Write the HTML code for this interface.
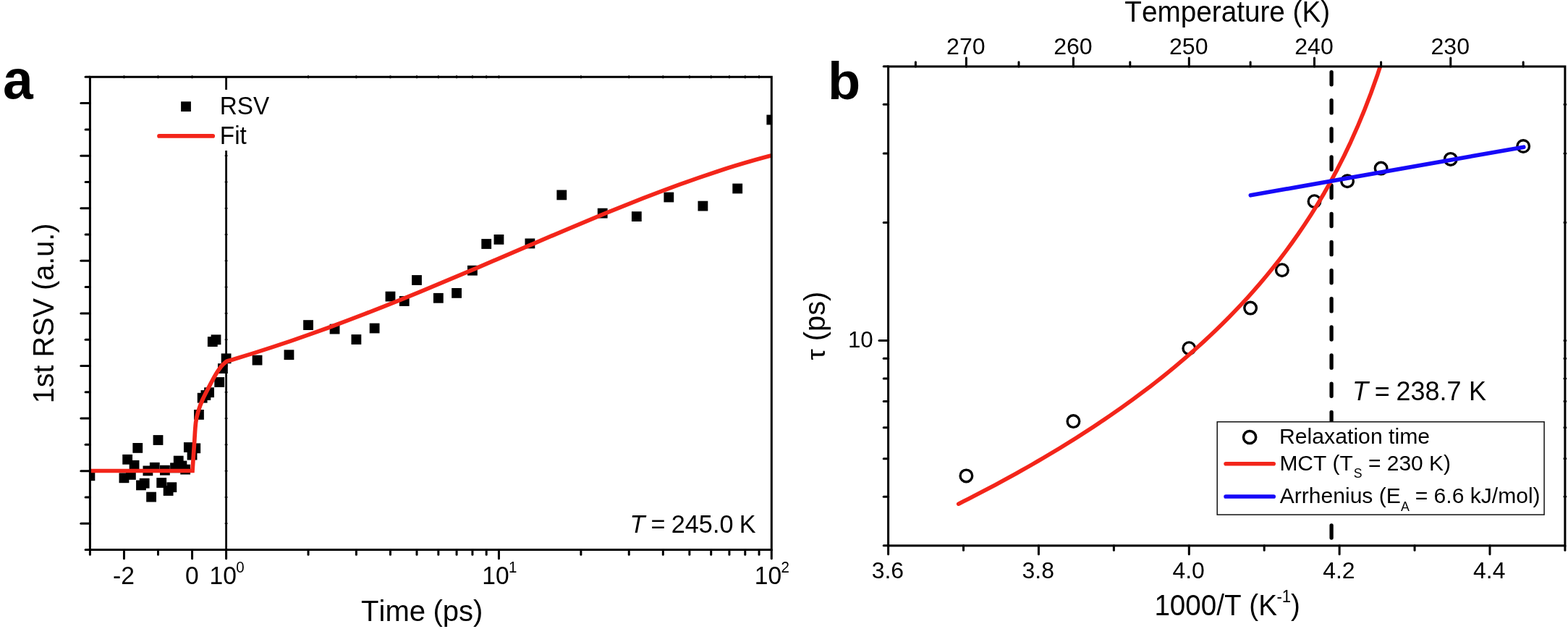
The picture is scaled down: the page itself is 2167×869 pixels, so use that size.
<!DOCTYPE html>
<html lang="en">
<head>
<meta charset="utf-8">
<title>Figure: RSV fit and relaxation time</title>
<style>
html,body{margin:0;padding:0;background:#fff;}
body{width:2167px;height:869px;overflow:hidden;}
svg{display:block;}
svg text{font-family:"Liberation Sans", sans-serif;fill:#000;font-kerning:none;}
</style>
</head>
<body>
<svg width="2167" height="869" viewBox="0 0 2167 869">
<rect x="0" y="0" width="2167" height="869" fill="#fff"/>
<g id="panelA">
<clipPath id="clipA"><rect x="124.4" y="106.3" width="941.9" height="653.2"/></clipPath>
<g clip-path="url(#clipA)" fill="#000">
<rect x="117.5" y="650.4" width="13.8" height="13.8"/>
<rect x="164.55" y="653.4" width="13.8" height="13.8"/>
<rect x="169.25" y="627.9" width="13.8" height="13.8"/>
<rect x="173.96" y="649" width="13.8" height="13.8"/>
<rect x="178.66" y="635.9" width="13.8" height="13.8"/>
<rect x="183.37" y="612" width="13.8" height="13.8"/>
<rect x="188.08" y="663.5" width="13.8" height="13.8"/>
<rect x="192.78" y="660.8" width="13.8" height="13.8"/>
<rect x="197.49" y="643.5" width="13.8" height="13.8"/>
<rect x="202.19" y="679.7" width="13.8" height="13.8"/>
<rect x="206.9" y="638.9" width="13.8" height="13.8"/>
<rect x="211.6" y="601.1" width="13.8" height="13.8"/>
<rect x="216.31" y="660.1" width="13.8" height="13.8"/>
<rect x="221.01" y="642.8" width="13.8" height="13.8"/>
<rect x="225.72" y="671.1" width="13.8" height="13.8"/>
<rect x="230.42" y="666.3" width="13.8" height="13.8"/>
<rect x="235.13" y="639.4" width="13.8" height="13.8"/>
<rect x="239.83" y="629.7" width="13.8" height="13.8"/>
<rect x="244.54" y="636.6" width="13.8" height="13.8"/>
<rect x="249.24" y="641.7" width="13.8" height="13.8"/>
<rect x="253.95" y="611.1" width="13.8" height="13.8"/>
<rect x="258.65" y="621.7" width="13.8" height="13.8"/>
<rect x="263.36" y="612.4" width="13.8" height="13.8"/>
<rect x="268.06" y="566" width="13.8" height="13.8"/>
<rect x="272.77" y="542.8" width="13.8" height="13.8"/>
<rect x="277.47" y="539.1" width="13.8" height="13.8"/>
<rect x="282.18" y="535.3" width="13.8" height="13.8"/>
<rect x="286.88" y="465.2" width="13.8" height="13.8"/>
<rect x="291.59" y="462.4" width="13.8" height="13.8"/>
<rect x="296.29" y="521.1" width="13.8" height="13.8"/>
<rect x="301" y="502.2" width="13.8" height="13.8"/>
<rect x="305.7" y="488.4" width="13.8" height="13.8"/>
<rect x="348.64" y="490.7" width="13.8" height="13.8"/>
<rect x="392.54" y="483.3" width="13.8" height="13.8"/>
<rect x="419.14" y="442.2" width="13.8" height="13.8"/>
<rect x="455.66" y="447.7" width="13.8" height="13.8"/>
<rect x="485.5" y="462.1" width="13.8" height="13.8"/>
<rect x="510.73" y="446.6" width="13.8" height="13.8"/>
<rect x="532.59" y="402.7" width="13.8" height="13.8"/>
<rect x="551.86" y="409.1" width="13.8" height="13.8"/>
<rect x="569.11" y="380.1" width="13.8" height="13.8"/>
<rect x="598.95" y="404.9" width="13.8" height="13.8"/>
<rect x="624.18" y="398" width="13.8" height="13.8"/>
<rect x="646.03" y="366.8" width="13.8" height="13.8"/>
<rect x="665.31" y="330.1" width="13.8" height="13.8"/>
<rect x="682.55" y="324" width="13.8" height="13.8"/>
<rect x="725.49" y="329.5" width="13.8" height="13.8"/>
<rect x="769.39" y="262.5" width="13.8" height="13.8"/>
<rect x="825.83" y="287.7" width="13.8" height="13.8"/>
<rect x="872.92" y="292.2" width="13.8" height="13.8"/>
<rect x="917.42" y="265.6" width="13.8" height="13.8"/>
<rect x="964.5" y="277.7" width="13.8" height="13.8"/>
<rect x="1012.32" y="253.6" width="13.8" height="13.8"/>
<rect x="1059.4" y="158.6" width="13.8" height="13.8"/>
</g>
<line x1="312.6" y1="106.3" x2="312.6" y2="759.5" stroke="#000" stroke-width="2.8" stroke-linecap="butt" />
<line x1="310.7" y1="142.59" x2="314.5" y2="142.59" stroke="#000" stroke-width="1.6" stroke-linecap="butt" />
<line x1="310.7" y1="178.88" x2="314.5" y2="178.88" stroke="#000" stroke-width="1.6" stroke-linecap="butt" />
<line x1="310.7" y1="215.17" x2="314.5" y2="215.17" stroke="#000" stroke-width="1.6" stroke-linecap="butt" />
<line x1="310.7" y1="251.46" x2="314.5" y2="251.46" stroke="#000" stroke-width="1.6" stroke-linecap="butt" />
<line x1="310.7" y1="287.74" x2="314.5" y2="287.74" stroke="#000" stroke-width="1.6" stroke-linecap="butt" />
<line x1="310.7" y1="324.03" x2="314.5" y2="324.03" stroke="#000" stroke-width="1.6" stroke-linecap="butt" />
<line x1="310.7" y1="360.32" x2="314.5" y2="360.32" stroke="#000" stroke-width="1.6" stroke-linecap="butt" />
<line x1="310.7" y1="396.61" x2="314.5" y2="396.61" stroke="#000" stroke-width="1.6" stroke-linecap="butt" />
<line x1="310.7" y1="432.9" x2="314.5" y2="432.9" stroke="#000" stroke-width="1.6" stroke-linecap="butt" />
<line x1="310.7" y1="469.19" x2="314.5" y2="469.19" stroke="#000" stroke-width="1.6" stroke-linecap="butt" />
<line x1="310.7" y1="505.48" x2="314.5" y2="505.48" stroke="#000" stroke-width="1.6" stroke-linecap="butt" />
<line x1="310.7" y1="541.77" x2="314.5" y2="541.77" stroke="#000" stroke-width="1.6" stroke-linecap="butt" />
<line x1="310.7" y1="578.06" x2="314.5" y2="578.06" stroke="#000" stroke-width="1.6" stroke-linecap="butt" />
<line x1="310.7" y1="614.34" x2="314.5" y2="614.34" stroke="#000" stroke-width="1.6" stroke-linecap="butt" />
<line x1="310.7" y1="650.63" x2="314.5" y2="650.63" stroke="#000" stroke-width="1.6" stroke-linecap="butt" />
<line x1="310.7" y1="686.92" x2="314.5" y2="686.92" stroke="#000" stroke-width="1.6" stroke-linecap="butt" />
<line x1="310.7" y1="723.21" x2="314.5" y2="723.21" stroke="#000" stroke-width="1.6" stroke-linecap="butt" />
<g clip-path="url(#clipA)"><path d="M124.4,650.5 L266.0,650.5  C266.4,644.52 267.63,625.75 268.4,614.6 C269.17,603.45 269.6,591.53 270.6,583.6 C271.6,575.67 272.87,572.18 274.4,567 C275.93,561.82 277.52,557.68 279.8,552.5 C282.08,547.32 285.03,541.77 288.1,535.9 C291.17,530.03 295.22,522.3 298.2,517.3 C301.18,512.3 303.53,508.92 306,505.9 C308.47,502.88 311.83,500.32 313,499.21" fill="none" stroke="#f3251a" stroke-width="5.7" stroke-linejoin="miter"/>
<path d="M313,499.21 C315,498.62 318.73,497.57 325,495.68 C331.27,493.78 342.08,490.52 350.62,487.85 C359.16,485.18 367.7,482.44 376.24,479.65 C384.78,476.86 393.32,474 401.86,471.09 C410.4,468.18 418.94,465.21 427.48,462.18 C436.02,459.16 444.56,456.09 453.1,452.96 C461.64,449.84 470.18,446.66 478.72,443.44 C487.26,440.22 495.8,436.95 504.34,433.64 C512.89,430.33 521.43,426.98 529.97,423.59 C538.51,420.2 547.05,416.77 555.59,413.31 C564.13,409.86 572.67,406.36 581.21,402.84 C589.75,399.32 598.29,395.77 606.83,392.2 C615.37,388.63 623.91,385.03 632.45,381.42 C640.99,377.81 649.53,374.18 658.07,370.54 C666.61,366.9 675.15,363.24 683.69,359.58 C692.23,355.92 700.77,352.25 709.31,348.59 C717.85,344.93 726.39,341.26 734.93,337.6 C743.47,333.94 752.01,330.28 760.55,326.65 C769.09,323.01 777.63,319.38 786.17,315.77 C794.71,312.17 803.25,308.58 811.79,305.02 C820.33,301.47 828.87,297.93 837.41,294.43 C845.95,290.94 854.49,287.47 863.03,284.06 C871.57,280.64 880.11,277.25 888.66,273.93 C897.2,270.61 905.74,267.32 914.28,264.11 C922.82,260.89 931.36,257.73 939.9,254.64 C948.44,251.55 956.98,248.51 965.52,245.57 C974.06,242.62 982.6,239.74 991.14,236.95 C999.68,234.16 1008.22,231.45 1016.76,228.84 C1025.3,226.23 1033.84,223.71 1042.38,221.3 C1050.92,218.89 1063.73,215.53 1068,214.37" fill="none" stroke="#f3251a" stroke-width="5.7" stroke-linejoin="round" stroke-linecap="round"/></g>
<rect x="210" y="124" width="170" height="84" fill="#fff"/>
<rect x="250.1" y="140.3" width="13.8" height="13.8" fill="#000"/>
<line x1="220" y1="187.9" x2="294.2" y2="187.9" stroke="#f3251a" stroke-width="5.7" stroke-linecap="round" />
<text transform="translate(303.8 158.3) scale(1.0 1.04)" font-size="33.3">RSV</text>
<text transform="translate(303.8 199.2) scale(1.0 1.04)" font-size="33.3">Fit</text>
<rect x="124.4" y="106.3" width="941.9" height="653.2" fill="none" stroke="#000" stroke-width="3.0"/>
<line x1="124.4" y1="106.3" x2="118.1" y2="106.3" stroke="#000" stroke-width="3" stroke-linecap="round" />
<line x1="124.4" y1="142.59" x2="111.8" y2="142.59" stroke="#000" stroke-width="3" stroke-linecap="round" />
<line x1="124.4" y1="178.88" x2="118.1" y2="178.88" stroke="#000" stroke-width="3" stroke-linecap="round" />
<line x1="124.4" y1="215.17" x2="111.8" y2="215.17" stroke="#000" stroke-width="3" stroke-linecap="round" />
<line x1="124.4" y1="251.46" x2="118.1" y2="251.46" stroke="#000" stroke-width="3" stroke-linecap="round" />
<line x1="124.4" y1="287.74" x2="111.8" y2="287.74" stroke="#000" stroke-width="3" stroke-linecap="round" />
<line x1="124.4" y1="324.03" x2="118.1" y2="324.03" stroke="#000" stroke-width="3" stroke-linecap="round" />
<line x1="124.4" y1="360.32" x2="111.8" y2="360.32" stroke="#000" stroke-width="3" stroke-linecap="round" />
<line x1="124.4" y1="396.61" x2="118.1" y2="396.61" stroke="#000" stroke-width="3" stroke-linecap="round" />
<line x1="124.4" y1="432.9" x2="111.8" y2="432.9" stroke="#000" stroke-width="3" stroke-linecap="round" />
<line x1="124.4" y1="469.19" x2="118.1" y2="469.19" stroke="#000" stroke-width="3" stroke-linecap="round" />
<line x1="124.4" y1="505.48" x2="111.8" y2="505.48" stroke="#000" stroke-width="3" stroke-linecap="round" />
<line x1="124.4" y1="541.77" x2="118.1" y2="541.77" stroke="#000" stroke-width="3" stroke-linecap="round" />
<line x1="124.4" y1="578.06" x2="111.8" y2="578.06" stroke="#000" stroke-width="3" stroke-linecap="round" />
<line x1="124.4" y1="614.34" x2="118.1" y2="614.34" stroke="#000" stroke-width="3" stroke-linecap="round" />
<line x1="124.4" y1="650.63" x2="111.8" y2="650.63" stroke="#000" stroke-width="3" stroke-linecap="round" />
<line x1="124.4" y1="686.92" x2="118.1" y2="686.92" stroke="#000" stroke-width="3" stroke-linecap="round" />
<line x1="124.4" y1="723.21" x2="111.8" y2="723.21" stroke="#000" stroke-width="3" stroke-linecap="round" />
<line x1="124.4" y1="759.5" x2="118.1" y2="759.5" stroke="#000" stroke-width="3" stroke-linecap="round" />
<line x1="124.4" y1="759.5" x2="124.4" y2="766.2" stroke="#000" stroke-width="3" stroke-linecap="round" />
<line x1="171.45" y1="759.5" x2="171.45" y2="771.8" stroke="#000" stroke-width="3" stroke-linecap="round" />
<line x1="171.45" y1="104.3" x2="171.45" y2="108.3" stroke="#000" stroke-width="1.8" stroke-linecap="butt" />
<line x1="218.5" y1="759.5" x2="218.5" y2="766.2" stroke="#000" stroke-width="3" stroke-linecap="round" />
<line x1="218.5" y1="104.3" x2="218.5" y2="108.3" stroke="#000" stroke-width="1.8" stroke-linecap="butt" />
<line x1="265.55" y1="759.5" x2="265.55" y2="771.8" stroke="#000" stroke-width="3" stroke-linecap="round" />
<line x1="265.55" y1="104.3" x2="265.55" y2="108.3" stroke="#000" stroke-width="1.8" stroke-linecap="butt" />
<line x1="312.6" y1="759.5" x2="312.6" y2="771.8" stroke="#000" stroke-width="3" stroke-linecap="round" />
<line x1="426.04" y1="759.5" x2="426.04" y2="766.2" stroke="#000" stroke-width="3" stroke-linecap="round" />
<line x1="426.04" y1="104.3" x2="426.04" y2="108.3" stroke="#000" stroke-width="1.8" stroke-linecap="butt" />
<line x1="492.4" y1="759.5" x2="492.4" y2="766.2" stroke="#000" stroke-width="3" stroke-linecap="round" />
<line x1="492.4" y1="104.3" x2="492.4" y2="108.3" stroke="#000" stroke-width="1.8" stroke-linecap="butt" />
<line x1="539.49" y1="759.5" x2="539.49" y2="766.2" stroke="#000" stroke-width="3" stroke-linecap="round" />
<line x1="539.49" y1="104.3" x2="539.49" y2="108.3" stroke="#000" stroke-width="1.8" stroke-linecap="butt" />
<line x1="576.01" y1="759.5" x2="576.01" y2="766.2" stroke="#000" stroke-width="3" stroke-linecap="round" />
<line x1="576.01" y1="104.3" x2="576.01" y2="108.3" stroke="#000" stroke-width="1.8" stroke-linecap="butt" />
<line x1="605.85" y1="759.5" x2="605.85" y2="766.2" stroke="#000" stroke-width="3" stroke-linecap="round" />
<line x1="605.85" y1="104.3" x2="605.85" y2="108.3" stroke="#000" stroke-width="1.8" stroke-linecap="butt" />
<line x1="631.08" y1="759.5" x2="631.08" y2="766.2" stroke="#000" stroke-width="3" stroke-linecap="round" />
<line x1="631.08" y1="104.3" x2="631.08" y2="108.3" stroke="#000" stroke-width="1.8" stroke-linecap="butt" />
<line x1="652.93" y1="759.5" x2="652.93" y2="766.2" stroke="#000" stroke-width="3" stroke-linecap="round" />
<line x1="652.93" y1="104.3" x2="652.93" y2="108.3" stroke="#000" stroke-width="1.8" stroke-linecap="butt" />
<line x1="672.21" y1="759.5" x2="672.21" y2="766.2" stroke="#000" stroke-width="3" stroke-linecap="round" />
<line x1="672.21" y1="104.3" x2="672.21" y2="108.3" stroke="#000" stroke-width="1.8" stroke-linecap="butt" />
<line x1="689.45" y1="759.5" x2="689.45" y2="771.8" stroke="#000" stroke-width="3" stroke-linecap="round" />
<line x1="689.45" y1="104.3" x2="689.45" y2="108.3" stroke="#000" stroke-width="1.8" stroke-linecap="butt" />
<line x1="802.89" y1="759.5" x2="802.89" y2="766.2" stroke="#000" stroke-width="3" stroke-linecap="round" />
<line x1="802.89" y1="104.3" x2="802.89" y2="108.3" stroke="#000" stroke-width="1.8" stroke-linecap="butt" />
<line x1="869.25" y1="759.5" x2="869.25" y2="766.2" stroke="#000" stroke-width="3" stroke-linecap="round" />
<line x1="869.25" y1="104.3" x2="869.25" y2="108.3" stroke="#000" stroke-width="1.8" stroke-linecap="butt" />
<line x1="916.34" y1="759.5" x2="916.34" y2="766.2" stroke="#000" stroke-width="3" stroke-linecap="round" />
<line x1="916.34" y1="104.3" x2="916.34" y2="108.3" stroke="#000" stroke-width="1.8" stroke-linecap="butt" />
<line x1="952.86" y1="759.5" x2="952.86" y2="766.2" stroke="#000" stroke-width="3" stroke-linecap="round" />
<line x1="952.86" y1="104.3" x2="952.86" y2="108.3" stroke="#000" stroke-width="1.8" stroke-linecap="butt" />
<line x1="982.7" y1="759.5" x2="982.7" y2="766.2" stroke="#000" stroke-width="3" stroke-linecap="round" />
<line x1="982.7" y1="104.3" x2="982.7" y2="108.3" stroke="#000" stroke-width="1.8" stroke-linecap="butt" />
<line x1="1007.93" y1="759.5" x2="1007.93" y2="766.2" stroke="#000" stroke-width="3" stroke-linecap="round" />
<line x1="1007.93" y1="104.3" x2="1007.93" y2="108.3" stroke="#000" stroke-width="1.8" stroke-linecap="butt" />
<line x1="1029.78" y1="759.5" x2="1029.78" y2="766.2" stroke="#000" stroke-width="3" stroke-linecap="round" />
<line x1="1029.78" y1="104.3" x2="1029.78" y2="108.3" stroke="#000" stroke-width="1.8" stroke-linecap="butt" />
<line x1="1049.06" y1="759.5" x2="1049.06" y2="766.2" stroke="#000" stroke-width="3" stroke-linecap="round" />
<line x1="1049.06" y1="104.3" x2="1049.06" y2="108.3" stroke="#000" stroke-width="1.8" stroke-linecap="butt" />
<line x1="1066.3" y1="759.5" x2="1066.3" y2="771.8" stroke="#000" stroke-width="3" stroke-linecap="round" />
<text transform="translate(171 806.8) scale(1.0 1.04)" font-size="33.6" text-anchor="middle">-2</text>
<text transform="translate(265.4 806.8) scale(1.0 1.04)" font-size="33.6" text-anchor="middle">0</text>
<text transform="translate(289.6 806.8) scale(1.0 1.04)" font-size="33.6">10<tspan font-size="20.5" dy="-15.2" dx="-0.6">0</tspan></text>
<text transform="translate(666.2 806.8) scale(1.0 1.04)" font-size="33.6">10<tspan font-size="20.5" dy="-15.2" dx="-0.6">1</tspan></text>
<text transform="translate(1042.8 806.8) scale(1.0 1.04)" font-size="33.6">10<tspan font-size="20.5" dy="-15.2" dx="-0.6">2</tspan></text>
<text transform="translate(499 857.7) scale(1.0205 1.03)" font-size="39.3">Time <tspan dx="-0.8">(ps)</tspan></text>
<text transform="translate(870.4 736.1) scale(1.012 1.04)" font-size="33.8" word-spacing="-1.2"><tspan font-style="italic">T</tspan> = 245.0 K</text>
<text transform="translate(74.3 557.3) rotate(-90) scale(1.003 1.02)" font-size="39.5">1st RSV (a.u.)</text>
<text transform="translate(4 136.2) scale(1.0 1.02)" font-size="75" font-weight="bold">a</text>
</g>
<g id="panelB">
<clipPath id="clipB"><rect x="1227.6" y="91.9" width="935.3" height="661.95"/></clipPath>
<line x1="1840.1" y1="99.6" x2="1840.1" y2="753.85" stroke="#000" stroke-width="5.3" stroke-linecap="round" stroke-dasharray="17.2 21.94"/>
<circle cx="1335.37" cy="657.4" r="8.3" fill="none" stroke="#000" stroke-width="3.4"/>
<circle cx="1483.41" cy="582.1" r="8.3" fill="none" stroke="#000" stroke-width="3.4"/>
<circle cx="1643.29" cy="481.2" r="8.3" fill="none" stroke="#000" stroke-width="3.4"/>
<circle cx="1728.12" cy="425.6" r="8.3" fill="none" stroke="#000" stroke-width="3.4"/>
<circle cx="1771.85" cy="373.2" r="8.3" fill="none" stroke="#000" stroke-width="3.4"/>
<circle cx="1816.49" cy="278.2" r="8.3" fill="none" stroke="#000" stroke-width="3.4"/>
<circle cx="1862.07" cy="250.2" r="8.3" fill="none" stroke="#000" stroke-width="3.4"/>
<circle cx="1908.62" cy="232.6" r="8.3" fill="none" stroke="#000" stroke-width="3.4"/>
<circle cx="2004.76" cy="219.9" r="8.3" fill="none" stroke="#000" stroke-width="3.4"/>
<circle cx="2105.17" cy="202" r="8.3" fill="none" stroke="#000" stroke-width="3.4"/>
<g clip-path="url(#clipB)">
<path d="M1324.71,696.18 L1331.81,692.6 L1338.94,688.98 L1346.09,685.32 L1353.27,681.6 L1360.48,677.84 L1367.72,674.03 L1374.98,670.17 L1382.27,666.26 L1389.58,662.29 L1396.93,658.27 L1404.3,654.19 L1411.7,650.05 L1419.12,645.85 L1426.58,641.59 L1434.06,637.27 L1441.57,632.88 L1449.12,628.43 L1456.69,623.9 L1464.28,619.31 L1471.91,614.63 L1479.57,609.89 L1487.26,605.06 L1494.97,600.15 L1502.72,595.16 L1510.49,590.08 L1518.3,584.9 L1526.14,579.64 L1534,574.28 L1541.9,568.81 L1549.83,563.24 L1557.79,557.56 L1565.78,551.77 L1573.8,545.86 L1581.86,539.83 L1589.94,533.66 L1598.06,527.37 L1606.21,520.93 L1614.39,514.35 L1622.61,507.61 L1630.86,500.72 L1639.14,493.65 L1647.45,486.41 L1655.8,478.99 L1664.18,471.37 L1672.59,463.54 L1681.04,455.49 L1689.52,447.22 L1698.04,438.7 L1706.59,429.92 L1715.18,420.87 L1723.8,411.53 L1732.46,401.87 L1741.15,391.89 L1749.88,381.54 L1758.64,370.81 L1767.44,359.67 L1776.28,348.09 L1785.15,336.02 L1794.06,323.42 L1803,310.26 L1811.99,296.47 L1821.01,281.98 L1830.07,266.74 L1839.16,250.64 L1848.3,233.6 L1857.47,215.49 L1866.68,196.18 L1875.93,175.48 L1885.22,153.2 L1894.55,129.05 L1903.92,102.7 L1913.33,73.72 L1922.78,41.5" fill="none" stroke="#f3251a" stroke-width="5.6" stroke-linecap="round" stroke-linejoin="round"/>
<line x1="1728.32" y1="269.8" x2="2105.77" y2="203.2" stroke="#1609f8" stroke-width="5.7" stroke-linecap="round" />
</g>
<rect x="1682.2" y="582.8" width="451.9" height="128.3" fill="#fff" stroke="#111" stroke-width="1.5"/>
<circle cx="1727.1" cy="604" r="8.6" fill="none" stroke="#000" stroke-width="3.5"/>
<line x1="1694.1" y1="640.8" x2="1760.2" y2="640.8" stroke="#f3251a" stroke-width="5.6" stroke-linecap="round" />
<line x1="1694.1" y1="686" x2="1760.2" y2="686" stroke="#1609f8" stroke-width="5.7" stroke-linecap="round" />
<text transform="translate(1768 613.3) scale(1.021 1.02)" font-size="29.6">Relaxation time</text>
<text transform="translate(1768.4 650.3) scale(1.012 1.01)" font-size="29.6">MCT (T<tspan font-size="17.5" dy="9.3" dx="1">S</tspan><tspan dy="-9.3"> = 230 K)</tspan></text>
<text transform="translate(1768.7 695.1) scale(1.0165 1.02)" font-size="29.6">Arrhenius (E<tspan font-size="17.5" dy="11" dx="0.2">A</tspan><tspan dy="-11" dx="-0.6"> = 6.6 kJ/mol)</tspan></text>
<text transform="translate(1869.1 552.7) scale(1.016 1.03)" font-size="35.4" word-spacing="-1.3"><tspan font-style="italic">T</tspan> = 238.7 <tspan dx="1.8">K</tspan></text>
<rect x="1227.6" y="91.9" width="935.3" height="661.95" fill="none" stroke="#000" stroke-width="3.05"/>
<line x1="1227.6" y1="753.85" x2="1221.2" y2="753.85" stroke="#000" stroke-width="3" stroke-linecap="round" />
<line x1="1227.6" y1="686.15" x2="1221.2" y2="686.15" stroke="#000" stroke-width="3" stroke-linecap="round" />
<line x1="2160.6" y1="686.15" x2="2165.2" y2="686.15" stroke="#000" stroke-width="2.2" stroke-linecap="butt" />
<line x1="1227.6" y1="633.65" x2="1221.2" y2="633.65" stroke="#000" stroke-width="3" stroke-linecap="round" />
<line x1="2160.6" y1="633.65" x2="2165.2" y2="633.65" stroke="#000" stroke-width="2.2" stroke-linecap="butt" />
<line x1="1227.6" y1="590.75" x2="1221.2" y2="590.75" stroke="#000" stroke-width="3" stroke-linecap="round" />
<line x1="2160.6" y1="590.75" x2="2165.2" y2="590.75" stroke="#000" stroke-width="2.2" stroke-linecap="butt" />
<line x1="1227.6" y1="554.48" x2="1221.2" y2="554.48" stroke="#000" stroke-width="3" stroke-linecap="round" />
<line x1="2160.6" y1="554.48" x2="2165.2" y2="554.48" stroke="#000" stroke-width="2.2" stroke-linecap="butt" />
<line x1="1227.6" y1="523.06" x2="1221.2" y2="523.06" stroke="#000" stroke-width="3" stroke-linecap="round" />
<line x1="2160.6" y1="523.06" x2="2165.2" y2="523.06" stroke="#000" stroke-width="2.2" stroke-linecap="butt" />
<line x1="1227.6" y1="495.34" x2="1221.2" y2="495.34" stroke="#000" stroke-width="3" stroke-linecap="round" />
<line x1="2160.6" y1="495.34" x2="2165.2" y2="495.34" stroke="#000" stroke-width="2.2" stroke-linecap="butt" />
<line x1="1227.6" y1="470.55" x2="1215" y2="470.55" stroke="#000" stroke-width="3" stroke-linecap="round" />
<line x1="2160.6" y1="470.55" x2="2165.2" y2="470.55" stroke="#000" stroke-width="2.2" stroke-linecap="butt" />
<line x1="1227.6" y1="307.45" x2="1221.2" y2="307.45" stroke="#000" stroke-width="3" stroke-linecap="round" />
<line x1="2160.6" y1="307.45" x2="2165.2" y2="307.45" stroke="#000" stroke-width="2.2" stroke-linecap="butt" />
<line x1="1227.6" y1="212.05" x2="1221.2" y2="212.05" stroke="#000" stroke-width="3" stroke-linecap="round" />
<line x1="2160.6" y1="212.05" x2="2165.2" y2="212.05" stroke="#000" stroke-width="2.2" stroke-linecap="butt" />
<line x1="1227.6" y1="144.35" x2="1221.2" y2="144.35" stroke="#000" stroke-width="3" stroke-linecap="round" />
<line x1="2160.6" y1="144.35" x2="2165.2" y2="144.35" stroke="#000" stroke-width="2.2" stroke-linecap="butt" />
<line x1="1227.6" y1="91.85" x2="1221.2" y2="91.85" stroke="#000" stroke-width="3" stroke-linecap="round" />
<line x1="1227.6" y1="753.85" x2="1227.6" y2="765.8" stroke="#000" stroke-width="3" stroke-linecap="round" />
<line x1="1331.52" y1="753.85" x2="1331.52" y2="760.3" stroke="#000" stroke-width="3" stroke-linecap="round" />
<line x1="1435.44" y1="753.85" x2="1435.44" y2="765.8" stroke="#000" stroke-width="3" stroke-linecap="round" />
<line x1="1539.37" y1="753.85" x2="1539.37" y2="760.3" stroke="#000" stroke-width="3" stroke-linecap="round" />
<line x1="1643.29" y1="753.85" x2="1643.29" y2="765.8" stroke="#000" stroke-width="3" stroke-linecap="round" />
<line x1="1747.21" y1="753.85" x2="1747.21" y2="760.3" stroke="#000" stroke-width="3" stroke-linecap="round" />
<line x1="1851.13" y1="753.85" x2="1851.13" y2="765.8" stroke="#000" stroke-width="3" stroke-linecap="round" />
<line x1="1955.06" y1="753.85" x2="1955.06" y2="760.3" stroke="#000" stroke-width="3" stroke-linecap="round" />
<line x1="2058.98" y1="753.85" x2="2058.98" y2="765.8" stroke="#000" stroke-width="3" stroke-linecap="round" />
<line x1="2162.9" y1="753.85" x2="2162.9" y2="760.3" stroke="#000" stroke-width="3" stroke-linecap="round" />
<line x1="2105.17" y1="91.9" x2="2105.17" y2="85.8" stroke="#000" stroke-width="3" stroke-linecap="round" />
<line x1="2004.76" y1="91.9" x2="2004.76" y2="80.1" stroke="#000" stroke-width="3" stroke-linecap="round" />
<line x1="1908.62" y1="91.9" x2="1908.62" y2="85.8" stroke="#000" stroke-width="3" stroke-linecap="round" />
<line x1="1816.49" y1="91.9" x2="1816.49" y2="80.1" stroke="#000" stroke-width="3" stroke-linecap="round" />
<line x1="1728.12" y1="91.9" x2="1728.12" y2="85.8" stroke="#000" stroke-width="3" stroke-linecap="round" />
<line x1="1643.29" y1="91.9" x2="1643.29" y2="80.1" stroke="#000" stroke-width="3" stroke-linecap="round" />
<line x1="1561.78" y1="91.9" x2="1561.78" y2="85.8" stroke="#000" stroke-width="3" stroke-linecap="round" />
<line x1="1483.41" y1="91.9" x2="1483.41" y2="80.1" stroke="#000" stroke-width="3" stroke-linecap="round" />
<line x1="1407.99" y1="91.9" x2="1407.99" y2="85.8" stroke="#000" stroke-width="3" stroke-linecap="round" />
<line x1="1335.37" y1="91.9" x2="1335.37" y2="80.1" stroke="#000" stroke-width="3" stroke-linecap="round" />
<line x1="1265.39" y1="91.9" x2="1265.39" y2="85.8" stroke="#000" stroke-width="3" stroke-linecap="round" />
<text transform="translate(1334.87 75.3) scale(1.025 1.03)" font-size="31.3" text-anchor="middle">270</text>
<text transform="translate(1482.91 75.3) scale(1.025 1.03)" font-size="31.3" text-anchor="middle">260</text>
<text transform="translate(1642.79 75.3) scale(1.025 1.03)" font-size="31.3" text-anchor="middle">250</text>
<text transform="translate(1815.99 75.3) scale(1.025 1.03)" font-size="31.3" text-anchor="middle">240</text>
<text transform="translate(2004.26 75.3) scale(1.025 1.03)" font-size="31.3" text-anchor="middle">230</text>
<text transform="translate(1226.9 798.6) scale(1.02 1.03)" font-size="31.3" text-anchor="middle">3.6</text>
<text transform="translate(1434.74 798.6) scale(1.02 1.03)" font-size="31.3" text-anchor="middle">3.8</text>
<text transform="translate(1642.59 798.6) scale(1.02 1.03)" font-size="31.3" text-anchor="middle">4.0</text>
<text transform="translate(1850.43 798.6) scale(1.02 1.03)" font-size="31.3" text-anchor="middle">4.2</text>
<text transform="translate(2058.28 798.6) scale(1.02 1.03)" font-size="31.3" text-anchor="middle">4.4</text>
<text transform="translate(1206.7 480) scale(1.0 1.02)" font-size="31.3" text-anchor="end">10</text>
<text transform="translate(1554.3 30) scale(1.0 1.045)" font-size="38.7">Temperature (K)</text>
<text transform="translate(1595.4 850) scale(0.985 1.04)" font-size="39.2">1000/T (K<tspan font-size="22.5" dy="-17" dx="-0.5">-1</tspan><tspan dy="17">)</tspan></text>
<text transform="translate(1140.1 497.6) rotate(-90) scale(1.01 1.02)" font-size="39.3"><tspan font-size="34" textLength="15.2" lengthAdjust="spacingAndGlyphs">τ</tspan><tspan dx="0.1"> (ps)</tspan></text>
<text transform="translate(1144 137.3) scale(1.0 0.98)" font-size="74" font-weight="bold">b</text>
</g>
</svg>
</body>
</html>
